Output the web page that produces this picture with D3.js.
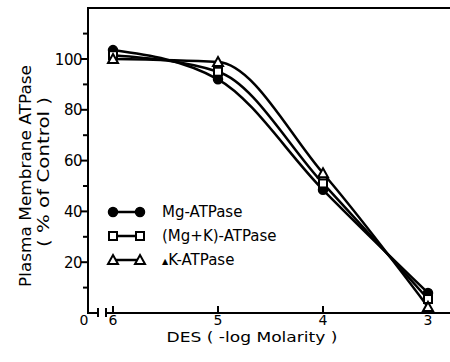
<!DOCTYPE html>
<html>
<head>
<meta charset="utf-8">
<script src="https://cdn.jsdelivr.net/npm/d3@7"></script>
<style>
  body { margin: 0; background: #fff; }
  svg { display: block; font-family: "DejaVu Sans", sans-serif; }
  text { fill: #000; }
</style>
</head>
<body>
<div id="chart"></div>
<script>
// data
var logMolarity = [6, 5, 4, 3];
var mgATPase = [103.5, 92, 48.5, 7.9];
var mgkATPase = [101.5, 95, 51, 5.5];
var kATPase = [100, 98.8, 55, 2.4];
var yMajorTicks = [20, 40, 60, 80, 100];
var yMinorTicks = [10, 30, 50, 70, 90, 110];
var xTicks = [6, 5, 4, 3];

var seriesNames = ["Mg-ATPase", "(Mg+K)-ATPase", "K-ATPase"];
var seriesMarks = ["circle", "square", "triangle"];

var width = 450, height = 362;
var axisLeftX = 88, axisTop = 8, axisBottomY = 313;

var svg = d3.select("#chart").append("svg")
  .attr("width", width)
  .attr("height", height);

var x = d3.scaleLinear().domain([6, 3]).range([113, 428]);
var y = d3.scaleLinear().domain([0, 100]).range([axisBottomY, 59]);

// frame: left axis + top line
svg.append("path")
  .attr("d", "M" + axisLeftX + "," + (axisBottomY) + "V" + axisTop + "H" + width)
  .attr("fill", "none").attr("stroke", "#000").attr("stroke-width", 2);

// broken bottom axis
svg.append("path")
  .attr("d", "M" + (axisLeftX - 1) + "," + axisBottomY + "H98")
  .attr("stroke", "#000").attr("stroke-width", 2);
svg.append("path")
  .attr("d", "M106," + axisBottomY + "H" + width)
  .attr("stroke", "#000").attr("stroke-width", 2);
[98, 106].forEach(function(bx){
  svg.append("line")
    .attr("x1", bx).attr("x2", bx)
    .attr("y1", axisBottomY - 5).attr("y2", axisBottomY + 4)
    .attr("stroke", "#000").attr("stroke-width", 2);
});

// y ticks
svg.selectAll(".ymaj")
  .data(yMajorTicks)
  .enter().append("line")
  .attr("x1", axisLeftX - 7).attr("x2", axisLeftX)
  .attr("y1", function(d){ return y(d); }).attr("y2", function(d){ return y(d); })
  .attr("stroke", "#000").attr("stroke-width", 2);
svg.selectAll(".ymin")
  .data(yMinorTicks)
  .enter().append("line")
  .attr("x1", axisLeftX - 5).attr("x2", axisLeftX)
  .attr("y1", function(d){ return y(d); }).attr("y2", function(d){ return y(d); })
  .attr("stroke", "#000").attr("stroke-width", 2);
svg.selectAll(".ylab")
  .data(yMajorTicks)
  .enter().append("text")
  .attr("x", axisLeftX - 6)
  .attr("y", function(d){ return y(d) + 5.5; })
  .attr("text-anchor", "end")
  .attr("font-size", 15)
  .attr("letter-spacing", -0.5)
  .text(function(d){ return d; });

// x ticks
svg.selectAll(".xt")
  .data(xTicks)
  .enter().append("line")
  .attr("x1", function(d){ return x(d); }).attr("x2", function(d){ return x(d); })
  .attr("y1", axisBottomY - 7).attr("y2", axisBottomY)
  .attr("stroke", "#000").attr("stroke-width", 2);
svg.selectAll(".xlab")
  .data(xTicks)
  .enter().append("text")
  .attr("x", function(d){ return x(d); })
  .attr("y", 325)
  .attr("text-anchor", "middle")
  .attr("font-size", 14)
  .text(function(d){ return d; });
svg.append("text")
  .attr("x", 84).attr("y", 325)
  .attr("text-anchor", "middle")
  .attr("font-size", 14)
  .text("0");

// axis titles
svg.append("text")
  .attr("x", 252).attr("y", 342)
  .attr("text-anchor", "middle")
  .attr("font-size", 14)
  .attr("textLength", 171)
  .attr("lengthAdjust", "spacingAndGlyphs")
  .text("DES ( -log Molarity )");
svg.append("text")
  .attr("transform", "translate(31,176) rotate(-90)")
  .attr("text-anchor", "middle")
  .attr("font-size", 15)
  .attr("textLength", 222)
  .attr("lengthAdjust", "spacingAndGlyphs")
  .text("Plasma Membrane ATPase");
svg.append("text")
  .attr("transform", "translate(49,172) rotate(-90)")
  .attr("text-anchor", "middle")
  .attr("font-size", 15)
  .attr("textLength", 150)
  .attr("lengthAdjust", "spacingAndGlyphs")
  .text("( % of Control )");

// marker drawing
function drawMark(g, type, cx, cy){
  if (type == "circle") {
    g.append("circle").attr("cx", cx).attr("cy", cy).attr("r", 4.5)
      .attr("fill", "#000").attr("stroke", "#000").attr("stroke-width", 1.5);
  } else if (type == "square") {
    g.append("rect").attr("x", cx - 4).attr("y", cy - 4)
      .attr("width", 8).attr("height", 8)
      .attr("fill", "#fff").attr("stroke", "#000").attr("stroke-width", 2);
  } else {
    g.append("path")
      .attr("d", "M" + cx + "," + (cy - 5) + "L" + (cx + 5) + "," + (cy + 4) + "L" + (cx - 5) + "," + (cy + 4) + "Z")
      .attr("fill", "#fff").attr("stroke", "#000").attr("stroke-width", 2);
  }
}

var seriesValues = [mgATPase, mgkATPase, kATPase];
var line = d3.line()
  .x(function(d){ return x(d[0]); })
  .y(function(d){ return y(d[1]); })
  .curve(d3.curveMonotoneX);

var curves = svg.append("g");
seriesValues.forEach(function(vals){
  curves.append("path")
    .datum(d3.zip(logMolarity, vals))
    .attr("d", line)
    .attr("fill", "none")
    .attr("stroke", "#000")
    .attr("stroke-width", 2.5);
});
var marks = svg.append("g");
seriesValues.forEach(function(vals, i){
  vals.forEach(function(v, j){
    drawMark(marks, seriesMarks[i], x(logMolarity[j]), y(v));
  });
});

// legend
var legend = svg.append("g");
var legendY = [212, 236, 260];
seriesNames.forEach(function(name, i){
  legend.append("line")
    .attr("x1", 113).attr("x2", 140)
    .attr("y1", legendY[i]).attr("y2", legendY[i])
    .attr("stroke", "#000").attr("stroke-width", 2.5);
  drawMark(legend, seriesMarks[i], 113, legendY[i]);
  drawMark(legend, seriesMarks[i], 140, legendY[i]);
  var t = legend.append("text")
    .attr("x", 162).attr("y", legendY[i] + 5)
    .attr("font-size", 15);
  if (i == 2) {
    t.append("tspan").attr("font-size", 8).attr("dy", -1).text("\u25B2");
    t.append("tspan").attr("dy", 1).text(name);
  } else {
    t.text(name);
  }
});
</script>
</body>
</html>
